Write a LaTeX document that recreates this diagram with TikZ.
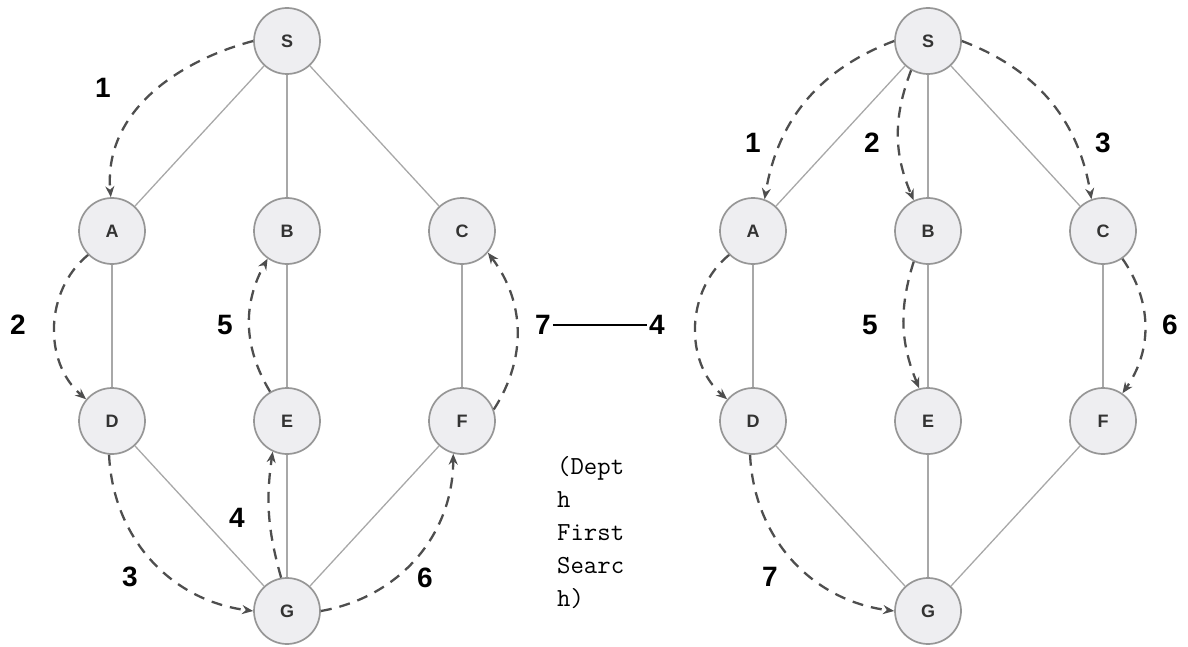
\documentclass[tikz,border=0pt]{standalone}
\usepackage{fontspec}
\setmainfont{Liberation Sans}
\usetikzlibrary{arrows.meta}
\definecolor{nodefill}{HTML}{EEEEF1}
\definecolor{nodeline}{HTML}{969696}
\definecolor{edgeline}{HTML}{A8A8A8}
\definecolor{walkgray}{HTML}{4E4E4E}
\begin{document}
\begin{tikzpicture}[x=1pt,y=-1pt,vert/.style={shape=circle,draw=nodeline,fill=nodefill,line width=1.7pt,minimum size=66pt,inner sep=0pt,font=\fontsize{18}{18}\selectfont\bfseries,text=black!80},edge/.style={draw=edgeline,line width=1.3pt},walk/.style={draw=walkgray,line width=2.3pt,dash pattern=on 11pt off 8pt,-{Stealth[length=11pt,width=9pt]}},num/.style={inner sep=2pt,font=\fontsize{28}{28}\selectfont\bfseries}]
\def\ya{41};
\def\yb{231};
\def\yc{421};
\def\yd{611};
\def\xa{112};
\def\xb{287};
\def\xc{462};
\def\xd{753};
\def\xe{928};
\def\xf{1103};

\useasboundingbox (0,0) rectangle (1188,647);

% left graph
\node[vert] (S) at (\xb,\ya) {S};
\node[vert] (A) at (\xa,\yb) {A};
\node[vert] (B) at (\xb,\yb) {B};
\node[vert] (C) at (\xc,\yb) {C};
\node[vert] (D) at (\xa,\yc) {D};
\node[vert] (E) at (\xb,\yc) {E};
\node[vert] (F) at (\xc,\yc) {F};
\node[vert] (G) at (\xb,\yd) {G};
\draw[edge] (S) -- (A);
\draw[edge] (S) -- (B);
\draw[edge] (S) -- (C);
\draw[edge] (A) -- (D);
\draw[edge] (B) -- (E);
\draw[edge] (C) -- (F);
\draw[edge] (D) -- (G);
\draw[edge] (E) -- (G);
\draw[edge] (F) -- (G);

\draw[walk] (S.west) to[out=195,in=95] (A.92);
\draw[walk] (A.225) to[bend right=50] (D.140);
\draw[walk] (D.265) to[bend right=40] (G.180);
\draw[walk] (G.100) to[bend left=12] (E.245);
\draw[walk] (E.120) to[bend left=30] (B.235);
\draw[walk] (G.0) to[bend right=40] (F.255);
\draw[walk] (F.20) to[bend right=35] (C.320);

\node[num] (L1) at (103,88) {1};
\node[num] (L2) at (18,325) {2};
\node[num] (L3) at (130,577) {3};
\node[num] (L4) at (237,518) {4};
\node[num] (L5) at (225,325) {5};
\node[num] (L6) at (425,578) {6};
\node[num] (L7) at (543,325) {7};

% right graph
\node[vert] (S2) at (\xe,\ya) {S};
\node[vert] (A2) at (\xd,\yb) {A};
\node[vert] (B2) at (\xe,\yb) {B};
\node[vert] (C2) at (\xf,\yb) {C};
\node[vert] (D2) at (\xd,\yc) {D};
\node[vert] (E2) at (\xe,\yc) {E};
\node[vert] (F2) at (\xf,\yc) {F};
\node[vert] (G2) at (\xe,\yd) {G};
\draw[edge] (S2) -- (A2);
\draw[edge] (S2) -- (B2);
\draw[edge] (S2) -- (C2);
\draw[edge] (A2) -- (D2);
\draw[edge] (B2) -- (E2);
\draw[edge] (C2) -- (F2);
\draw[edge] (D2) -- (G2);
\draw[edge] (E2) -- (G2);
\draw[edge] (F2) -- (G2);

\draw[walk] (S2.180) to[bend right=30] (A2.70);
\draw[walk] (S2.240) to[bend right=22] (B2.115);
\draw[walk] (S2.0) to[bend left=30] (C2.110);
\draw[walk] (A2.225) to[bend right=50] (D2.140);
\draw[walk] (B2.245) to[bend right=20] (E2.105);
\draw[walk] (C2.305) to[bend left=35] (F2.55);
\draw[walk] (D2.265) to[bend right=40] (G2.180);

\node[num] (R1) at (753,143) {1};
\node[num] (R2) at (872,143) {2};
\node[num] (R3) at (1103,143) {3};
\node[num] (R4) at (657,325) {4};
\node[num] (R5) at (870,325) {5};
\node[num] (R6) at (1170,325) {6};
\node[num] (R7) at (770,577) {7};

\draw[line width=2pt] (L7.east) -- (R4.west);

\node[anchor=north west,align=left,inner sep=0pt,font=\ttfamily\fontsize{26}{33}\selectfont] (title) at (557,456) {(Dept\\h\\First\\Searc\\h)};
\end{tikzpicture}
\end{document}
